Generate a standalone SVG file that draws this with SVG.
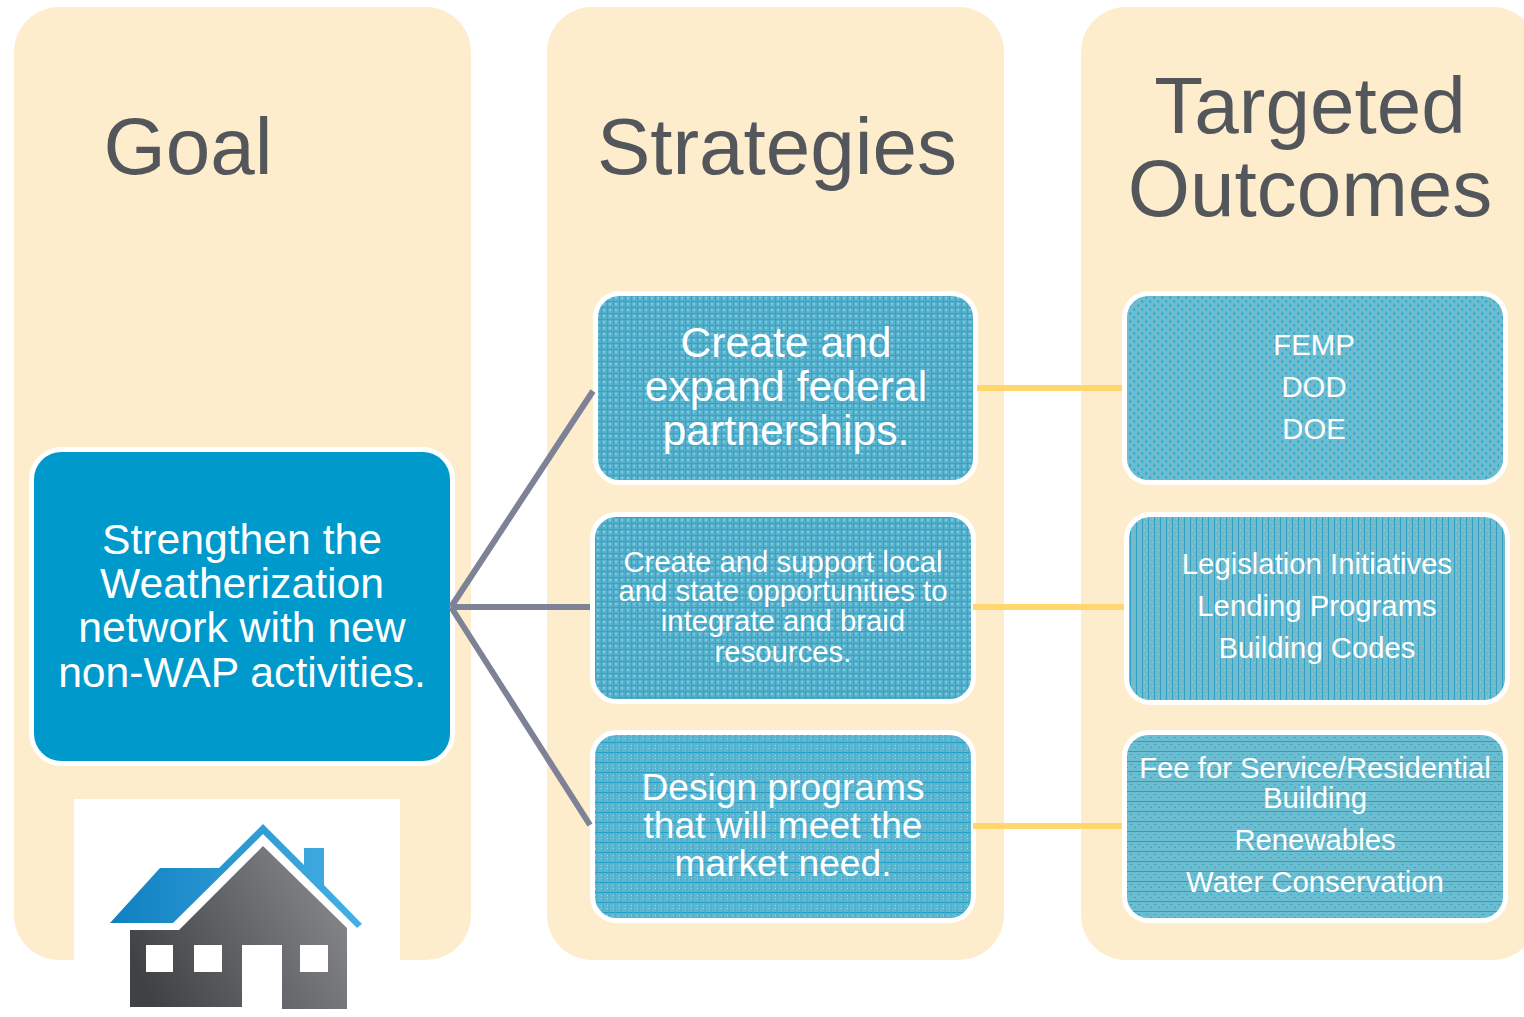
<svg xmlns="http://www.w3.org/2000/svg" width="1524" height="1017" viewBox="0 0 1524 1017">
<style>
text{font-family:"Liberation Sans",Arial,sans-serif;text-anchor:middle}
.col{fill:#feedcc}
.h{fill:#53565a;font-size:80px}
.w{fill:#fff}
.big{font-size:42.700px}
.mid{font-size:37.200px}
.sm{font-size:29.300px}
.box{stroke:#fff;stroke-width:5}
.gr{stroke:#7d8296;stroke-width:6;fill:none}
.ye{stroke:#ffd76e;stroke-width:6;fill:none}
</style>
<defs>
<pattern id="p1" width="6" height="6" patternUnits="userSpaceOnUse"><rect width="6" height="6" fill="#55b3cf"/><path d="M0 1.500H6M1.500 0V6" stroke="#2ba6cc" stroke-width="1"/><path d="M3 3h2v2H3z" fill="#84c9da"/></pattern>
<pattern id="p2" width="6" height="8" patternUnits="userSpaceOnUse"><rect width="6" height="8" fill="#6fbacb"/><path d="M2.500 0V8" stroke="#2ea2cb" stroke-width="1"/><path d="M4 2h1v1H4zM0 6h1v1H0z" fill="#96ccd6"/></pattern>
<pattern id="p3" width="6" height="10" patternUnits="userSpaceOnUse"><rect width="6" height="10" fill="#5fb6cf"/><path d="M0 2.500H6" stroke="#1b9eca" stroke-width="1"/><path d="M3 0V10" stroke="#46abcc" stroke-width="1"/><path d="M1 5h1v1H1zM1 8h1v1H1z" fill="#a5d4de"/></pattern>
<pattern id="p4" width="8" height="8" patternUnits="userSpaceOnUse"><rect width="8" height="8" fill="#70bbcb"/><path d="M1 1h2v1H1zM5 5h2v1H5zM2 0h1v3H2zM6 4h1v3H6z" fill="#2ea3cb"/></pattern>
<pattern id="p5" width="8" height="10" patternUnits="userSpaceOnUse"><rect width="8" height="10" fill="#6bbdcf"/><path d="M0 1.500H8" stroke="#22a0ca" stroke-width="1"/><path d="M2 4h2v1H2zM6 7h2v1H6z" fill="#2ea6cd"/></pattern>
<linearGradient id="roof" x1="0" y1="0" x2="1" y2="0"><stop offset="0" stop-color="#0f80c1"/><stop offset="1" stop-color="#46b0e4"/></linearGradient>
<linearGradient id="wall" x1="0" y1="0.700" x2="1" y2="0.300"><stop offset="0" stop-color="#404144"/><stop offset="1" stop-color="#86888b"/></linearGradient>
</defs>

<g id="col-goal"><rect class="col" x="14" y="7" width="457" height="953" rx="45"/><text class="h" x="188" y="174">Goal</text></g>
<g id="col-strategies"><rect class="col" x="547" y="7" width="457" height="953" rx="45"/><text class="h" x="777" y="174">Strategies</text></g>
<g id="col-outcomes"><rect class="col" x="1081" y="7" width="457" height="953" rx="45"/><text class="h" x="1310" y="133">Targeted</text><text class="h" x="1310" y="216">Outcomes</text></g>

<g id="house">
<rect x="74" y="799" width="326" height="218" fill="#fff"/>
<path fill="url(#roof)" d="M110 923L160 868H219L263 824L304 865V848H324V885L362 924L357 928L263 834L173 923Z"/>
<path fill="url(#wall)" d="M130 930H179L263 846L347 928V1009H282V945H242V1007H130Z"/>
<path fill="#fff" d="M146 945h27v27h-27zM194 945h28v27h-28zM300 945h28v27h-28z"/>
</g>

<g id="goal-box"><rect class="box" x="31.500" y="449.500" width="421" height="314" rx="30" fill="#0099cc"/>
<text class="w big" x="242" y="554">Strengthen the</text><text class="w big" x="242" y="598">Weatherization</text><text class="w big" x="242" y="642">network with new</text><text class="w big" x="242" y="687">non-WAP activities.</text></g>

<g id="s1"><rect class="box" x="595.500" y="293.500" width="380" height="189" rx="24" fill="url(#p1)"/>
<text class="w big" x="786" y="357">Create and</text><text class="w big" x="786" y="401">expand federal</text><text class="w big" x="786" y="445">partnerships.</text></g>
<g id="s2"><rect class="box" x="592.500" y="514.500" width="381" height="187" rx="24" fill="url(#p1)"/>
<text class="w sm" x="783" y="572">Create and support local</text><text class="w sm" x="783" y="601">and state opportunities to</text><text class="w sm" x="783" y="631">integrate and braid</text><text class="w sm" x="783" y="662">resources.</text></g>
<g id="s3"><rect class="box" x="592.500" y="732.500" width="381" height="188" rx="24" fill="url(#p3)"/>
<text class="w mid" x="783" y="800">Design programs</text><text class="w mid" x="783" y="838">that will meet the</text><text class="w mid" x="783" y="876">market need.</text></g>

<g id="o1"><rect class="box" x="1124.500" y="293.500" width="381" height="189" rx="24" fill="url(#p4)"/>
<text class="w sm" x="1314" y="355">FEMP</text><text class="w sm" x="1314" y="397">DOD</text><text class="w sm" x="1314" y="439">DOE</text></g>
<g id="o2"><rect class="box" x="1126.500" y="514.500" width="381" height="188" rx="24" fill="url(#p2)"/>
<text class="w sm" x="1317" y="574">Legislation Initiatives</text><text class="w sm" x="1317" y="616">Lending Programs</text><text class="w sm" x="1317" y="658">Building Codes</text></g>
<g id="o3"><rect class="box" x="1124.500" y="732.500" width="381" height="188" rx="24" fill="url(#p5)"/>
<text class="w sm" x="1315" y="778">Fee for Service/Residential</text><text class="w sm" x="1315" y="808">Building</text><text class="w sm" x="1315" y="850">Renewables</text><text class="w sm" x="1315" y="892">Water Conservation</text></g>

<g id="connectors">
<path class="gr" d="M451 607L593 391M451 607H590M451 607L590 825"/>
<path class="ye" d="M977 388H1122M973 607H1124M973 826H1122"/>
</g>
</svg>
